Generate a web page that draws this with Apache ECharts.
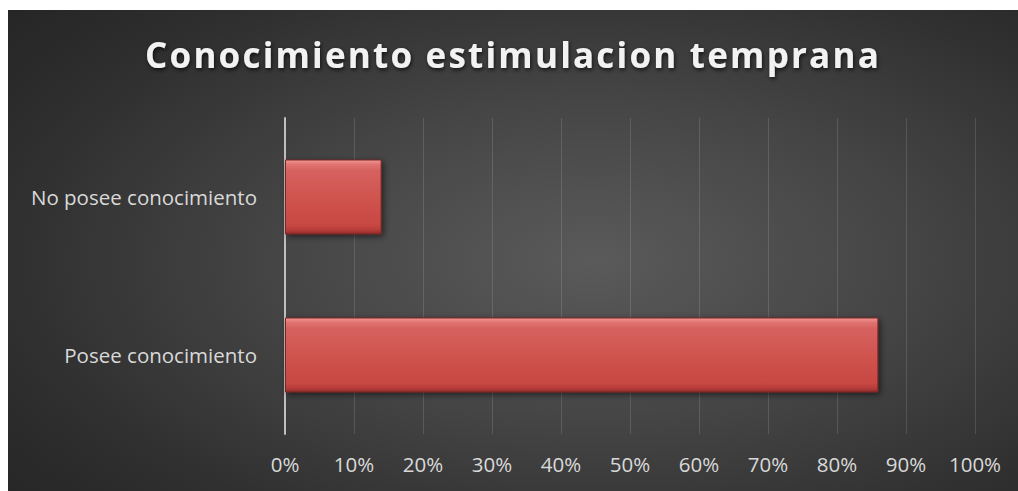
<!DOCTYPE html>
<html>
<head>
<meta charset="utf-8">
<script src="https://cdn.jsdelivr.net/npm/echarts@6/dist/echarts.min.js"></script>
<style>
html,body{margin:0;padding:0;background:#ffffff;width:1018px;height:491px;overflow:hidden;}
#chart{position:absolute;left:8px;top:10px;width:1010px;height:481px;
background:radial-gradient(ellipse 75% 80% at 58% 52%, #5a5a5a 0%, #464646 40%, #2e2e2e 80%, #262626 100%);}
</style>
</head>
<body>
<div id="chart"></div>
<script>
const titleText = 'Conocimiento estimulacion temprana';
const categories = ['Posee conocimiento', 'No posee conocimiento'];
const values = [86, 14];
const tickMin = 0, tickMax = 100, tickStep = 10;

const chart = echarts.init(document.getElementById('chart'), null, {renderer: 'svg'});
chart.setOption({
  animation: false,
  backgroundColor: 'transparent',
  title: {
    text: titleText,
    left: 'center',
    top: 22,
    textStyle: {
      color: '#f2f2f2',
      fontFamily: 'Open Sans',
      fontWeight: 'bold',
      fontSize: 35,
      textShadowColor: 'rgba(0,0,0,0.7)',
      textShadowBlur: 4,
      textShadowOffsetX: 1,
      textShadowOffsetY: 2
    }
  },
  grid: {left: 277, right: 43, top: 108, bottom: 57, containLabel: false},
  xAxis: {
    type: 'value',
    min: tickMin, max: tickMax, interval: tickStep,
    axisLine: {show: false},
    axisTick: {show: false},
    axisLabel: {
      formatter: '{value}%',
      color: '#d9d9d9',
      fontFamily: 'Open Sans',
      fontSize: 20.5,
      margin: 19
    },
    splitLine: {lineStyle: {color: 'rgba(255,255,255,0.13)', width: 1}}
  },
  yAxis: {
    type: 'category',
    data: categories,
    axisLine: {lineStyle: {color: '#bfbfbf', width: 2}},
    axisTick: {show: false},
    axisLabel: {
      color: '#d9d9d9',
      fontFamily: 'Open Sans',
      fontSize: 20.5,
      margin: 28
    }
  },
  series: [{
    type: 'bar',
    data: values,
    barWidth: 75,
    itemStyle: {
      color: new echarts.graphic.LinearGradient(0, 0, 0, 1, [
        {offset: 0, color: '#f09896'},
        {offset: 0.06, color: '#e07370'},
        {offset: 0.14, color: '#d6625f'},
        {offset: 0.5, color: '#d0544f'},
        {offset: 0.88, color: '#c84743'},
        {offset: 0.95, color: '#b53c39'},
        {offset: 1, color: '#8e2c2a'}
      ]),
      borderColor: '#7a2523',
      borderWidth: 1,
      shadowColor: 'rgba(0,0,0,0.55)',
      shadowBlur: 6,
      shadowOffsetX: 2,
      shadowOffsetY: 2
    }
  }]
});

// Widen the title tracking as in the reference
document.querySelectorAll('#chart text').forEach(function (t) {
  if (t.textContent === titleText) {
    t.style.letterSpacing = '2.2px';
  }
});
</script>
</body>
</html>
